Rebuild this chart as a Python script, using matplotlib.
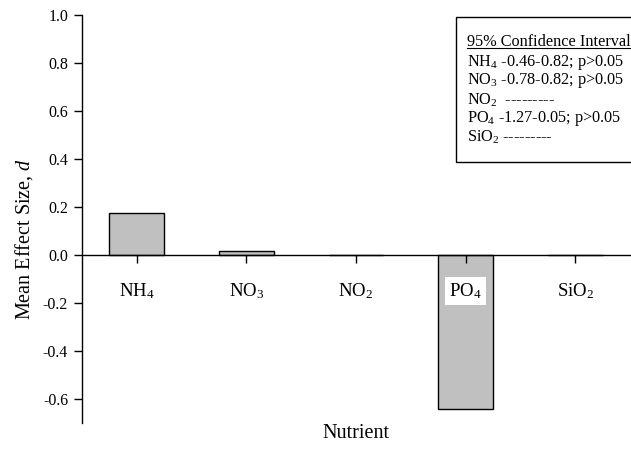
import matplotlib
matplotlib.use('Agg')
import matplotlib.pyplot as plt
from matplotlib.patches import Rectangle
from matplotlib.lines import Line2D

# data
nutrients = ['NH$_4$', 'NO$_3$', 'NO$_2$', 'PO$_4$', 'SiO$_2$']
effect_size = [0.175, 0.017, 0.0, -0.64, 0.0]
ci_lines = ['NH$_4$ -0.46-0.82; p>0.05',
			'NO$_3$ -0.78-0.82; p>0.05',
			'NO$_2$  ---------',
			'PO$_4$ -1.27-0.05; p>0.05',
			'SiO$_2$ ---------']
yticks = [-0.6, -0.4, -0.2, 0.0, 0.2, 0.4, 0.6, 0.8, 1.0]

plt.rcParams['font.family'] = 'Liberation Serif'
plt.rcParams['mathtext.fontset'] = 'custom'
plt.rcParams['mathtext.rm'] = 'Liberation Serif'
plt.rcParams['mathtext.it'] = 'Liberation Serif:italic'

W, H = 631, 449
fig = plt.figure(figsize=(W / 100, H / 100), dpi=100)
ax = fig.add_axes([82 / W, 1 - 423 / H, (630 - 82) / W, (423 - 15) / H])

x = list(range(len(nutrients)))
ax.bar(x, effect_size, width=0.5, color='#c0c0c0', edgecolor='black', linewidth=1.0, zorder=2)

ax.set_xlim(-0.5, 4.5)
ax.set_ylim(-0.7, 1.0)
ax.set_axisbelow(False)

ax.spines['top'].set_visible(False)
ax.spines['right'].set_visible(False)
ax.spines['bottom'].set_position(('data', 0))
ax.spines['bottom'].set_zorder(3)
ax.spines['left'].set_linewidth(1.0)
ax.spines['bottom'].set_linewidth(1.0)

ax.set_yticks(yticks)
ax.set_yticklabels([f'{v:.1f}' for v in yticks])
ax.set_xticks(x)
ax.set_xticklabels(nutrients)
ax.tick_params(axis='y', direction='out', length=6, width=1.0, pad=4, labelsize=11.5)
ax.tick_params(axis='x', direction='out', length=6, width=1.0, pad=13, labelsize=13.5)
for lbl in ax.get_xticklabels():
	lbl.set_bbox(dict(facecolor='white', edgecolor='none', pad=3))

ax.set_ylabel('Mean Effect Size, $\\it{d}$', fontsize=14.5, va='center')
ax.yaxis.set_label_coords(-(82 - 24) / (630 - 82), (423 - 239) / (423 - 15))
ax.set_xlabel('Nutrient', fontsize=14.5)
ax.xaxis.set_label_coords(0.5, -(433 - 423) / (423 - 15))
ax.xaxis.label.set_va('center')

# confidence interval box
box = Rectangle((456 / W, 1 - 162 / H), 200 / W, 145 / H, transform=fig.transFigure,
				facecolor='white', edgecolor='black', linewidth=1.0, clip_on=False, zorder=5)
fig.patches.append(box)

title = fig.text(467 / W, 1 - 42 / H, '95% Confidence Interval', va='center', ha='left',
				fontsize=11.7, zorder=6)
ys = [62, 81, 100, 118, 137]
for yy, s in zip(ys, ci_lines):
	fig.text(467 / W, 1 - yy / H, s, va='center', ha='left', fontsize=11.7, zorder=6)

fig.canvas.draw()
bb = title.get_window_extent().transformed(fig.transFigure.inverted())
fig.lines.append(Line2D([bb.x0, bb.x1], [bb.y0 + 0.005, bb.y0 + 0.005], transform=fig.transFigure,
						color='black', linewidth=0.8, zorder=6))

fig.savefig('out.png', dpi=100)
